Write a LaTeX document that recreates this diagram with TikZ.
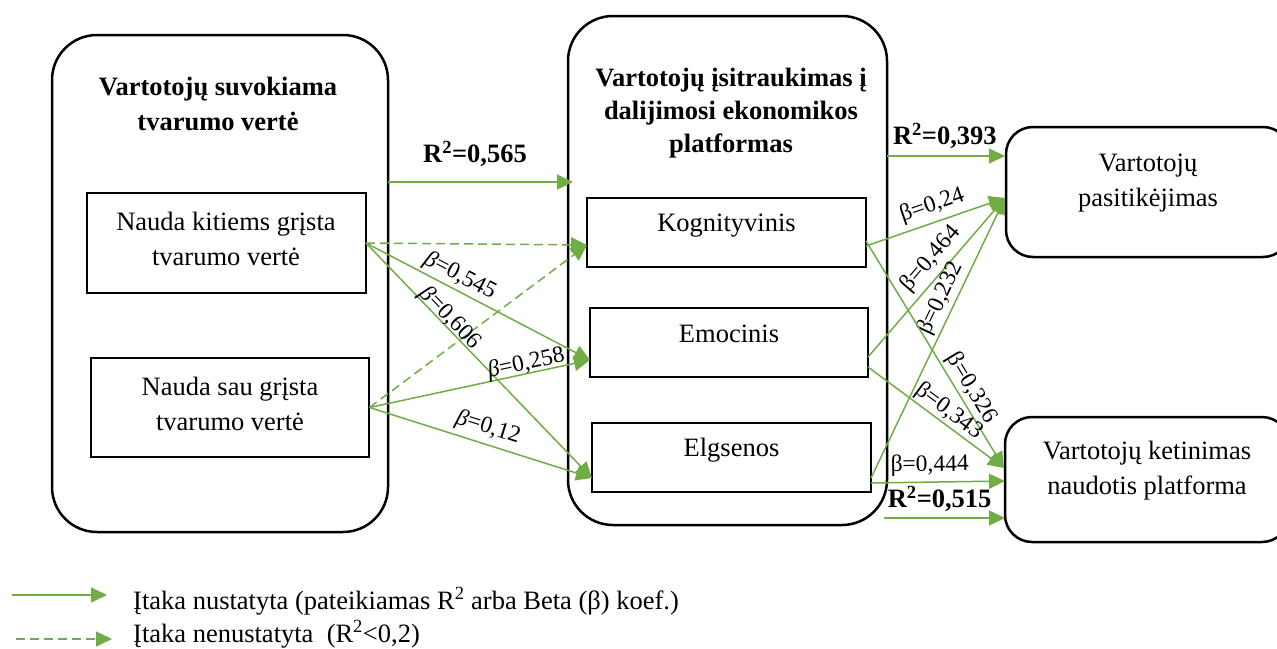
\documentclass[tikz,border=0pt]{standalone}
\usepackage{fontspec}
\setmainfont{Liberation Serif}
\usetikzlibrary{arrows.meta,calc}
\definecolor{grn}{HTML}{70AD47}
\begin{document}
\begin{tikzpicture}[x=1pt,y=-1pt,
  bigbox/.style={draw=black, line width=2.5pt, rounded corners=45pt, inner sep=0pt},
  inbox/.style={draw=black, line width=2.5pt, inner sep=0pt},
  endbox/.style={draw=black, line width=2.5pt, rounded corners=27pt, inner sep=0pt},
  txt/.style={font=\fontsize{26.5}{35}\selectfont, align=center, inner sep=0pt},
  ttl/.style={font=\fontsize{26.5}{35}\selectfont\bfseries, align=center, inner sep=0pt},
  conn/.style={draw=grn, line width=1.5pt, -{Triangle[length=16pt,width=15pt]}},
  dconn/.style={conn, dash pattern=on 9pt off 5pt},
  blab/.style={font=\fontsize{23.5}{28}\selectfont, sloped, inner sep=1pt},
  rlab/.style={font=\fontsize{26.5}{30}\selectfont\bfseries, inner sep=0pt},
]
\useasboundingbox (0,0) rectangle (1277,648);

% boxes
\node[bigbox, minimum width=336pt, minimum height=497pt] (lbig) at (220,283.5) {};
\node[inbox, minimum width=279pt, minimum height=100pt] (kit) at (226.5,243) {};
\node[inbox, minimum width=278pt, minimum height=99pt] (sau) at (230,407.5) {};
\node[bigbox, minimum width=319pt, minimum height=509pt] (mbig) at (727.5,270.5) {};
\node[inbox, minimum width=279pt, minimum height=69pt] (kog) at (726.5,232.5) {};
\node[inbox, minimum width=278pt, minimum height=69pt] (emo) at (729,342.5) {};
\node[inbox, minimum width=279pt, minimum height=69pt] (elg) at (731.5,457.5) {};
\node[endbox, minimum width=284pt, minimum height=130pt] (pas) at (1148,192) {};
\node[endbox, minimum width=284pt, minimum height=125pt] (int) at (1147,479.5) {};

% texts
\node[ttl] (lttl) at (218,103.5) {Vartotojų suvokiama\\tvarumo vertė};
\node[txt] (kittxt) at (226,238.5) {Nauda kitiems grįsta\\tvarumo vertė};
\node[txt] (sautxt) at (230,403.5) {Nauda sau grįsta\\tvarumo vertė};
\node[ttl, font=\fontsize{26.5}{33.3}\selectfont\bfseries] (mttl) at (731,113) {Vartotojų įsitraukimas į\\dalijimosi ekonomikos\\platformas};
\node[txt, anchor=base] (kogtxt) at (726.5,231.7) {Kognityvinis};
\node[txt, anchor=base] (emotxt) at (729,342.7) {Emocinis};
\node[txt, anchor=base] (elgtxt) at (731.5,456.7) {Elgsenos};
\node[txt] (pastxt) at (1148,183) {Vartotojų\\pasitikėjimas};
\node[txt] (inttxt) at (1147,470.6) {Vartotojų ketinimas\\naudotis platforma};

% connector end points
\coordinate (r1s) at (388,182);
\coordinate (r1e) at (573,182);
\coordinate (kogIn) at (587,245);
\coordinate (emoIn) at (590,360);
\coordinate (elgIn) at (592,478);
\coordinate (kitO) at (366,243);
\coordinate (sauO) at (369.5,407.5);
\coordinate (kogO1) at (866,246);
\coordinate (kogO2) at (866,241);
\coordinate (emoO1) at (868,357);
\coordinate (emoO2) at (868,367);
\coordinate (elgO1) at (871,478);
\coordinate (elgO2) at (871,483);
\coordinate (pasIn) at (1005,198);
\coordinate (intIn) at (1004,468);
\coordinate (intIn2) at (1005,481);
\coordinate (r2s) at (887,156);
\coordinate (r2e) at (1005,156);
\coordinate (r3s) at (884,518);
\coordinate (r3e) at (1005,518);

% left side
\draw[conn] (r1s) -- node[rlab, pos=0.47, above=15pt] {R\textsuperscript{2}=0,565} (r1e);
\draw[dconn] (kitO) -- (kogIn);
\draw[dconn] (sauO) -- (kogIn);
\draw[conn] (kitO) -- node[blab, pos=0.39, above=1.5pt] {{\itshape β}=0,545} (emoIn);
\draw[conn] (kitO) -- node[blab, pos=0.345, above=-4pt] {{\itshape β}=0,606} (elgIn);
\draw[conn] (sauO) -- node[blab, pos=0.72, above=-3pt] {{\itshape β}=0,258} (emoIn);
\draw[conn] (sauO) -- node[blab, pos=0.51, above=4pt] {{\itshape β}=0,12} (elgIn);

% right side
\draw[conn] (r2s) -- node[rlab, pos=0.49, above=7pt] {R\textsuperscript{2}=0,393} (r2e);
\draw[conn] (kogO1) -- node[blab, pos=0.515, above=4pt] {β=0,24} (pasIn);
\draw[conn] (emoO1) -- node[blab, pos=0.55, above=4pt] {β=0,464} (pasIn);
\draw[conn] (elgO1) -- node[blab, pos=0.62, above=2pt] {β=0,232} (pasIn);
\draw[conn] (kogO2) -- node[blab, pos=0.68, above=1pt] {β=0,326} (intIn);
\draw[conn] (emoO2) -- node[blab, pos=0.54, above=0pt] {β=0,343} (intIn);
\draw[conn] (elgO2) -- node[blab, pos=0.44, above=4pt] {β=0,444} (intIn2);
\draw[conn] (r3s) -- node[rlab, pos=0.46, above=6pt] {R\textsuperscript{2}=0,515} (r3e);

% legend
\coordinate (l1a) at (12,595);
\coordinate (l1b) at (107,595);
\coordinate (l2a) at (16,639);
\coordinate (l2b) at (112,639);
\draw[conn] (l1a) -- (l1b);
\draw[dconn] (l2a) -- (l2b);
\node[txt, anchor=base west] (leg1) at (133,609) {Įtaka nustatyta (pateikiamas R\textsuperscript{2} arba Beta (β) koef.)};
\node[txt, anchor=base west] (leg2) at (133,642) {Įtaka nenustatyta\ \ (R\textsuperscript{2}<0,2)};
\end{tikzpicture}
\end{document}
